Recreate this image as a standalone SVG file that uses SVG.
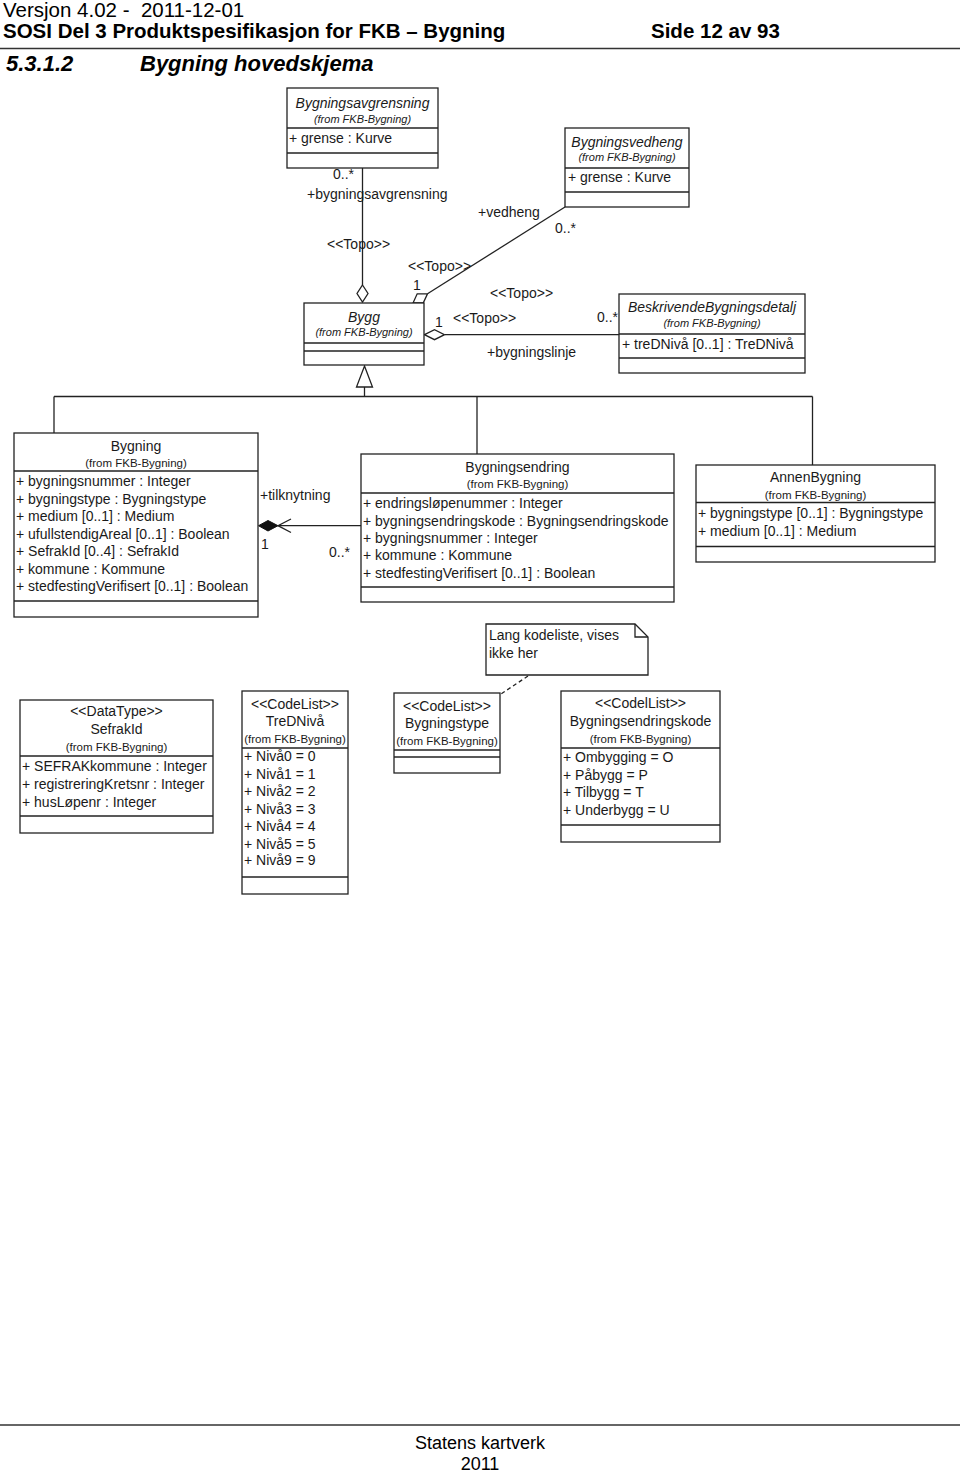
<svg xmlns="http://www.w3.org/2000/svg" width="960" height="1472" viewBox="0 0 960 1472">
<style>
.t{font-family:"Liberation Sans",Arial,sans-serif;font-size:14px;fill:#1a1a1a}
.h{font-family:"Liberation Sans",Arial,sans-serif;fill:#000}
.c{text-anchor:middle}
.i{font-style:italic}
.f{font-size:11.5px}
.fi{font-size:11px;font-style:italic}
.box{fill:#fff;stroke:#222;stroke-width:1.3}
.ln{stroke:#222;stroke-width:1.3;fill:none}
</style>
<rect width="960" height="1472" fill="#fff"/>
<g id="header">
<text class="h" x="3" y="17" font-size="20.5">Versjon 4.02 - &#160;2011-12-01</text>
<text class="h" x="3" y="38" font-size="20.5" font-weight="bold">SOSI Del 3 Produktspesifikasjon for FKB – Bygning</text>
<text class="h" x="651" y="38" font-size="20.5" font-weight="bold">Side 12 av 93</text>
<line x1="0" y1="48.5" x2="960" y2="48.5" stroke="#333" stroke-width="1.5"/>
<text class="h" x="6" y="71" font-size="22" font-weight="bold" font-style="italic">5.3.1.2</text>
<text class="h" x="140" y="71" font-size="22" font-weight="bold" font-style="italic">Bygning hovedskjema</text>
</g>
<g id="connectors">
<line class="ln" x1="362.5" y1="168" x2="362.5" y2="285"/>
<polygon class="ln" points="362.5,285 368,293.5 362.5,302 357,293.5" fill="#fff"/>
<line class="ln" x1="565" y1="207" x2="427.5" y2="293.8"/>
<polygon class="ln" points="413,303 423.2,303 427.5,293.8 417.2,293.8" fill="#fff"/>
<line class="ln" x1="445" y1="334.7" x2="619" y2="334.7"/>
<polygon class="ln" points="424.5,334.7 434.5,329.7 444.5,334.7 434.5,339.7" fill="#fff"/>
<polygon class="ln" points="364.5,366 372.5,387 356.5,387" fill="#fff"/>
<line class="ln" x1="364.5" y1="387" x2="364.5" y2="396.5"/>
<line class="ln" x1="54" y1="396.5" x2="812.5" y2="396.5"/>
<line class="ln" x1="54" y1="396.5" x2="54" y2="433"/>
<line class="ln" x1="477" y1="396.5" x2="477" y2="454"/>
<line class="ln" x1="812.5" y1="396.5" x2="812.5" y2="465"/>
<line class="ln" x1="278" y1="525.7" x2="361" y2="525.7"/>
<polygon points="258.5,525.7 268,520.5 278,525.7 268,531" fill="#111" stroke="#111" stroke-width="1"/>
<polyline class="ln" points="291,519 278,525.7 291,532.5"/>
<line class="ln" x1="528" y1="676" x2="501" y2="694" stroke-dasharray="4,3"/>
<text class="t" x="333" y="179">0..*</text>
<text class="t" x="307" y="199">+bygningsavgrensning</text>
<text class="t" x="327" y="249">&lt;&lt;Topo&gt;&gt;</text>
<text class="t" x="478" y="217">+vedheng</text>
<text class="t" x="555" y="233">0..*</text>
<text class="t" x="408" y="271">&lt;&lt;Topo&gt;&gt;</text>
<text class="t" x="413" y="290">1</text>
<text class="t" x="490" y="298">&lt;&lt;Topo&gt;&gt;</text>
<text class="t" x="453" y="323">&lt;&lt;Topo&gt;&gt;</text>
<text class="t" x="435" y="327">1</text>
<text class="t" x="597" y="322">0..*</text>
<text class="t" x="487" y="357">+bygningslinje</text>
<text class="t" x="260" y="500">+tilknytning</text>
<text class="t" x="261" y="549">1</text>
<text class="t" x="329" y="557">0..*</text>
</g>
<g id="Bygningsavgrensning">
<rect class="box" x="287" y="88" width="151" height="80"/>
<line class="ln" x1="287" y1="128" x2="438" y2="128"/>
<line class="ln" x1="287" y1="153" x2="438" y2="153"/>
<text class="t c i" x="362.5" y="108">Bygningsavgrensning</text>
<text class="t c fi" x="362.5" y="123">(from FKB-Bygning)</text>
<text class="t" x="289" y="143">+ grense : Kurve</text>
</g>
<g id="Bygningsvedheng">
<rect class="box" x="565" y="128" width="124" height="79"/>
<line class="ln" x1="565" y1="168" x2="689" y2="168"/>
<line class="ln" x1="565" y1="192" x2="689" y2="192"/>
<text class="t c i" x="627" y="146.5">Bygningsvedheng</text>
<text class="t c fi" x="627" y="161">(from FKB-Bygning)</text>
<text class="t" x="568" y="182">+ grense : Kurve</text>
</g>
<g id="Bygg">
<rect class="box" x="304" y="303" width="120" height="62"/>
<line class="ln" x1="304" y1="343" x2="424" y2="343"/>
<line class="ln" x1="304" y1="351" x2="424" y2="351"/>
<text class="t c i" x="364" y="321.5">Bygg</text>
<text class="t c fi" x="364" y="336">(from FKB-Bygning)</text>
</g>
<g id="BeskrivendeBygningsdetalj">
<rect class="box" x="619" y="294" width="186" height="79"/>
<line class="ln" x1="619" y1="334" x2="805" y2="334"/>
<line class="ln" x1="619" y1="358" x2="805" y2="358"/>
<text class="t c i" x="712" y="312">BeskrivendeBygningsdetalj</text>
<text class="t c fi" x="712" y="327">(from FKB-Bygning)</text>
<text class="t" x="622" y="348.5">+ treDNivå [0..1] : TreDNivå</text>
</g>
<g id="Bygning">
<rect class="box" x="14" y="433" width="244" height="184"/>
<line class="ln" x1="14" y1="471" x2="258" y2="471"/>
<line class="ln" x1="14" y1="601" x2="258" y2="601"/>
<text class="t c" x="136" y="451">Bygning</text>
<text class="t c f" x="136" y="466.5">(from FKB-Bygning)</text>
<text class="t" x="16" y="486">+ bygningsnummer : Integer</text>
<text class="t" x="16" y="503.5">+ bygningstype : Bygningstype</text>
<text class="t" x="16" y="521">+ medium [0..1] : Medium</text>
<text class="t" x="16" y="538.5">+ ufullstendigAreal [0..1] : Boolean</text>
<text class="t" x="16" y="556">+ SefrakId [0..4] : SefrakId</text>
<text class="t" x="16" y="573.5">+ kommune : Kommune</text>
<text class="t" x="16" y="591">+ stedfestingVerifisert [0..1] : Boolean</text>
</g>
<g id="Bygningsendring">
<rect class="box" x="361" y="454" width="313" height="148"/>
<line class="ln" x1="361" y1="493" x2="674" y2="493"/>
<line class="ln" x1="361" y1="587" x2="674" y2="587"/>
<text class="t c" x="517.5" y="471.5">Bygningsendring</text>
<text class="t c f" x="517.5" y="487.5">(from FKB-Bygning)</text>
<text class="t" x="363" y="508">+ endringsløpenummer : Integer</text>
<text class="t" x="363" y="525.5">+ bygningsendringskode : Bygningsendringskode</text>
<text class="t" x="363" y="542.5">+ bygningsnummer : Integer</text>
<text class="t" x="363" y="560">+ kommune : Kommune</text>
<text class="t" x="363" y="577.5">+ stedfestingVerifisert [0..1] : Boolean</text>
</g>
<g id="AnnenBygning">
<rect class="box" x="696" y="465" width="239" height="97"/>
<line class="ln" x1="696" y1="502.5" x2="935" y2="502.5"/>
<line class="ln" x1="696" y1="546.5" x2="935" y2="546.5"/>
<text class="t c" x="815.5" y="482">AnnenBygning</text>
<text class="t c f" x="815.5" y="498.5">(from FKB-Bygning)</text>
<text class="t" x="698" y="518">+ bygningstype [0..1] : Bygningstype</text>
<text class="t" x="698" y="536">+ medium [0..1] : Medium</text>
</g>
<g id="note">
<path class="box" d="M486,624 H635 L648,637 V675 H486 Z"/>
<polyline class="ln" points="635,624 635,637 648,637"/>
<text class="t" x="489" y="640">Lang kodeliste, vises</text>
<text class="t" x="489" y="658">ikke her</text>
</g>
<g id="SefrakId">
<rect class="box" x="20" y="700" width="193" height="133"/>
<line class="ln" x1="20" y1="756" x2="213" y2="756"/>
<line class="ln" x1="20" y1="816" x2="213" y2="816"/>
<text class="t c" x="116.5" y="716">&lt;&lt;DataType&gt;&gt;</text>
<text class="t c" x="116.5" y="734">SefrakId</text>
<text class="t c f" x="116.5" y="751">(from FKB-Bygning)</text>
<text class="t" x="22" y="771">+ SEFRAKkommune : Integer</text>
<text class="t" x="22" y="789">+ registreringKretsnr : Integer</text>
<text class="t" x="22" y="806.5">+ husLøpenr : Integer</text>
</g>
<g id="TreDNivaa">
<rect class="box" x="242" y="691" width="106" height="203"/>
<line class="ln" x1="242" y1="748" x2="348" y2="748"/>
<line class="ln" x1="242" y1="877" x2="348" y2="877"/>
<text class="t c" x="295" y="709">&lt;&lt;CodeList&gt;&gt;</text>
<text class="t c" x="295" y="726">TreDNivå</text>
<text class="t c f" x="295" y="742.5">(from FKB-Bygning)</text>
<text class="t" x="244" y="761">+ Nivå0 = 0</text>
<text class="t" x="244" y="778.5">+ Nivå1 = 1</text>
<text class="t" x="244" y="796">+ Nivå2 = 2</text>
<text class="t" x="244" y="813.5">+ Nivå3 = 3</text>
<text class="t" x="244" y="831">+ Nivå4 = 4</text>
<text class="t" x="244" y="848.5">+ Nivå5 = 5</text>
<text class="t" x="244" y="865">+ Nivå9 = 9</text>
</g>
<g id="Bygningstype">
<rect class="box" x="394" y="693" width="106" height="80"/>
<line class="ln" x1="394" y1="750" x2="500" y2="750"/>
<line class="ln" x1="394" y1="757" x2="500" y2="757"/>
<text class="t c" x="447" y="710.5">&lt;&lt;CodeList&gt;&gt;</text>
<text class="t c" x="447" y="728">Bygningstype</text>
<text class="t c f" x="447" y="745">(from FKB-Bygning)</text>
</g>
<g id="Bygningsendringskode">
<rect class="box" x="561" y="691" width="159" height="151"/>
<line class="ln" x1="561" y1="748" x2="720" y2="748"/>
<line class="ln" x1="561" y1="825" x2="720" y2="825"/>
<text class="t c" x="640.5" y="708">&lt;&lt;CodelList&gt;&gt;</text>
<text class="t c" x="640.5" y="725.5">Bygningsendringskode</text>
<text class="t c f" x="640.5" y="742.5">(from FKB-Bygning)</text>
<text class="t" x="563" y="762">+ Ombygging = O</text>
<text class="t" x="563" y="779.5">+ Påbygg = P</text>
<text class="t" x="563" y="797">+ Tilbygg = T</text>
<text class="t" x="563" y="814.5">+ Underbygg = U</text>
</g>
<g id="footer">
<line x1="0" y1="1425" x2="960" y2="1425" stroke="#333" stroke-width="1.5"/>
<text class="h c" x="480" y="1448.5" font-size="18">Statens kartverk</text>
<text class="h c" x="480" y="1470" font-size="18">2011</text>
</g>
</svg>
